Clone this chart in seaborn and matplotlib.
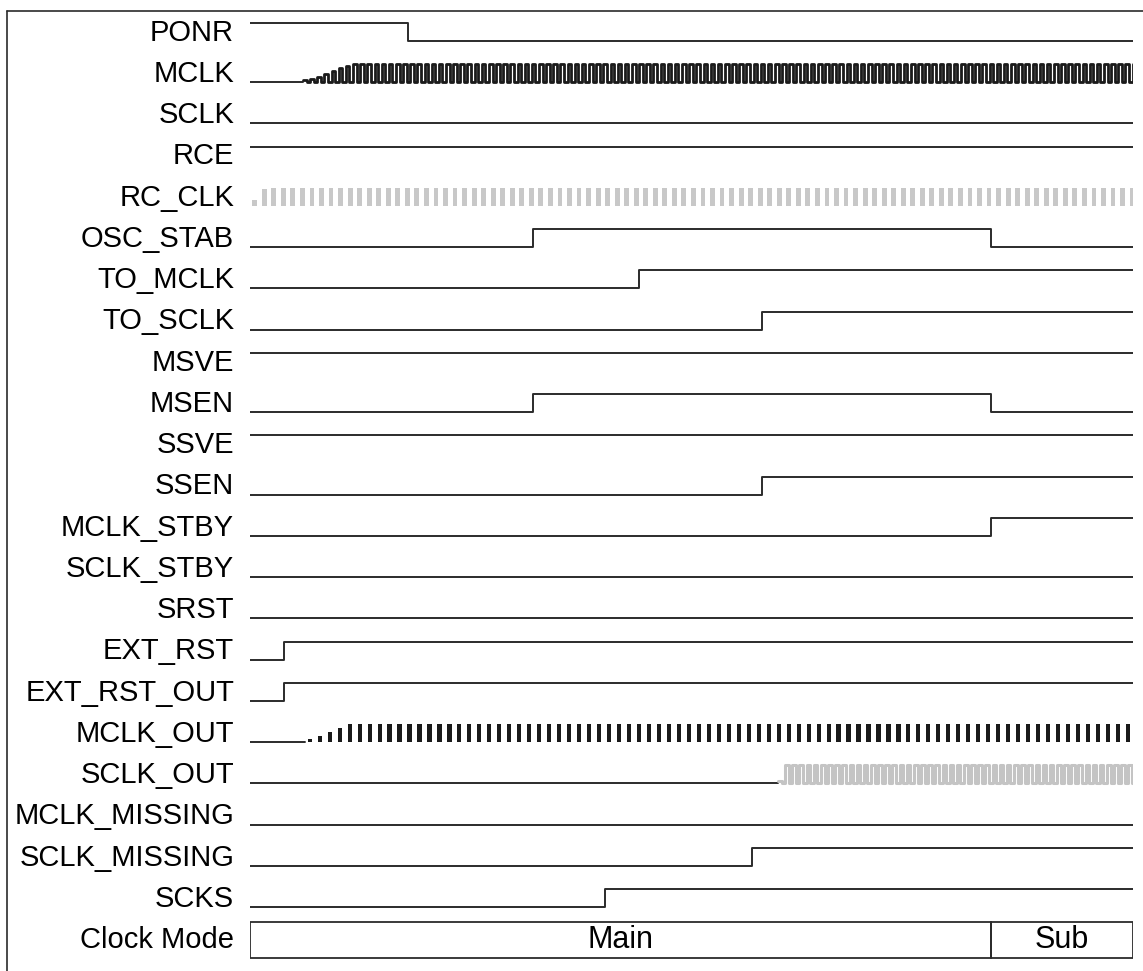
import numpy as np
import pandas as pd
import matplotlib.pyplot as plt
import seaborn as sns

sns.set_style("white")
plt.rcParams['font.family'] = ['Liberation Sans', 'DejaVu Sans']

# Row labels, top to bottom
labels = ['PONR', 'MCLK', 'SCLK', 'RCE', 'RC_CLK', 'OSC_STAB', 'TO_MCLK', 'TO_SCLK',
          'MSVE', 'MSEN', 'SSVE', 'SSEN', 'MCLK_STBY', 'SCLK_STBY', 'SRST', 'EXT_RST',
          'EXT_RST_OUT', 'MCLK_OUT', 'SCLK_OUT', 'MCLK_MISSING', 'SCLK_MISSING', 'SCKS',
          'Clock Mode']

# Level signals: (start level, toggle times), time axis 0..100
PONR = (1, [17.9])
SCLK = (0, [])
RCE = (1, [])
OSC_STAB = (0, [32.0, 83.9])
TO_MCLK = (0, [44.0])
TO_SCLK = (0, [58.0])
MSVE = (1, [])
MSEN = (0, [32.0, 83.9])
SSVE = (1, [])
SSEN = (0, [58.0])
MCLK_STBY = (0, [83.9])
SCLK_STBY = (0, [])
SRST = (0, [])
EXT_RST = (0, [3.9])
EXT_RST_OUT = (0, [3.9])
MCLK_MISSING = (0, [])
SCLK_MISSING = (0, [56.9])
SCKS = (0, [40.2])

# Clock signals: (start, end of amplitude ramp, period)
MCLK = (6.0, 11.3, 0.81)
RC_CLK = (0.0, 1.7, 1.08)
MCLK_OUT = (6.2, 11.3, 1.13)
SCLK_OUT = (59.8, 59.8, 0.81)

# Clock mode segments
mode_names = ['Main', 'Sub']
mode_edges = [0, 83.9, 100]

T_END = 100
HIGH = 0.436
LINE = '#2b2b2b'

fig = plt.figure(figsize=(11.43, 9.71), dpi=100)
ax = fig.add_axes([250 / 1143, 0, 883 / 1143, 1])
ax.set_xlim(0, T_END)
ax.set_ylim(-22.55, 0.994)
ax.axis('off')

row = {name: -i for i, name in enumerate(labels)}


def level_signal(name, sig):
    lvl, toggles = sig
    t = [0] + list(toggles) + [T_END]
    v = [lvl]
    for _ in toggles:
        lvl = 1 - lvl
        v.append(lvl)
    v.append(lvl)
    df = pd.DataFrame({'t': t, 'y': np.array(v) * HIGH + row[name]})
    sns.lineplot(data=df, x='t', y='y', drawstyle='steps-post', estimator=None,
                 sort=False, color=LINE, lw=1.4, ax=ax)


def line_clock(name, clk, color, lw):
    start, ramp_end, period = clk
    half = period / 2
    ts = np.arange(start, T_END, half)
    amp = np.clip((ts - start) / max(ramp_end - start, 1e-9), 0.15, 1)
    lv = np.where(np.arange(len(ts)) % 2 == 0, 1, 0) * amp
    sns.lineplot(x=[0, start], y=[row[name]] * 2, color=LINE, lw=1.4, ax=ax)
    t = np.concatenate([ts, [T_END]])
    v = np.concatenate([lv, [lv[-1]]])
    df = pd.DataFrame({'t': t, 'y': v * HIGH + row[name]})
    sns.lineplot(data=df, x='t', y='y', drawstyle='steps-post', estimator=None,
                 sort=False, color=color, lw=lw, ax=ax)


def bar_clock(name, clk, color, width, lead=True):
    start, ramp_end, period = clk
    ts = np.arange(start + period / 2, T_END, period)
    amp = np.clip((ts - start) / max(ramp_end - start, 1e-9), 0.15, 1)
    if lead:
        sns.lineplot(x=[0, start], y=[row[name]] * 2, color=LINE, lw=1.4, ax=ax)
    ax.bar(ts, amp * HIGH, bottom=row[name], width=width, color=color, lw=0)


for name, sig in [('PONR', PONR), ('SCLK', SCLK), ('RCE', RCE), ('OSC_STAB', OSC_STAB),
                  ('TO_MCLK', TO_MCLK), ('TO_SCLK', TO_SCLK), ('MSVE', MSVE), ('MSEN', MSEN),
                  ('SSVE', SSVE), ('SSEN', SSEN), ('MCLK_STBY', MCLK_STBY),
                  ('SCLK_STBY', SCLK_STBY), ('SRST', SRST), ('EXT_RST', EXT_RST),
                  ('EXT_RST_OUT', EXT_RST_OUT), ('MCLK_MISSING', MCLK_MISSING),
                  ('SCLK_MISSING', SCLK_MISSING), ('SCKS', SCKS)]:
    level_signal(name, sig)

line_clock('MCLK', MCLK, '#1a1a1a', 2.0)
line_clock('SCLK_OUT', SCLK_OUT, '#c4c4c4', 2.2)
bar_clock('RC_CLK', RC_CLK, '#c8c8c8', 0.55, lead=False)
bar_clock('MCLK_OUT', MCLK_OUT, '#1a1a1a', 0.47)

# Clock mode box
y_mode = row['Clock Mode'] + 0.2
ax.barh(y_mode, np.diff(mode_edges), left=mode_edges[:-1], height=0.87,
        fill=False, edgecolor=LINE, lw=1.3)
for i, m in enumerate(mode_names):
    ax.text((mode_edges[i] + mode_edges[i + 1]) / 2, y_mode, m, ha='center',
            va='center', fontsize=22, color='black')

for name in labels:
    ax.text(-1.8, row[name] + 0.2, name, ha='right', va='center', fontsize=21,
            color='black')

# outer frame (top and left edge)
fig.add_artist(plt.Line2D([7 / 1143, 1], [1 - 11 / 971] * 2, color=LINE, lw=1.2))
fig.add_artist(plt.Line2D([7 / 1143] * 2, [0, 1 - 11 / 971], color=LINE, lw=1.2))

plt.savefig('out.png', dpi=100)
